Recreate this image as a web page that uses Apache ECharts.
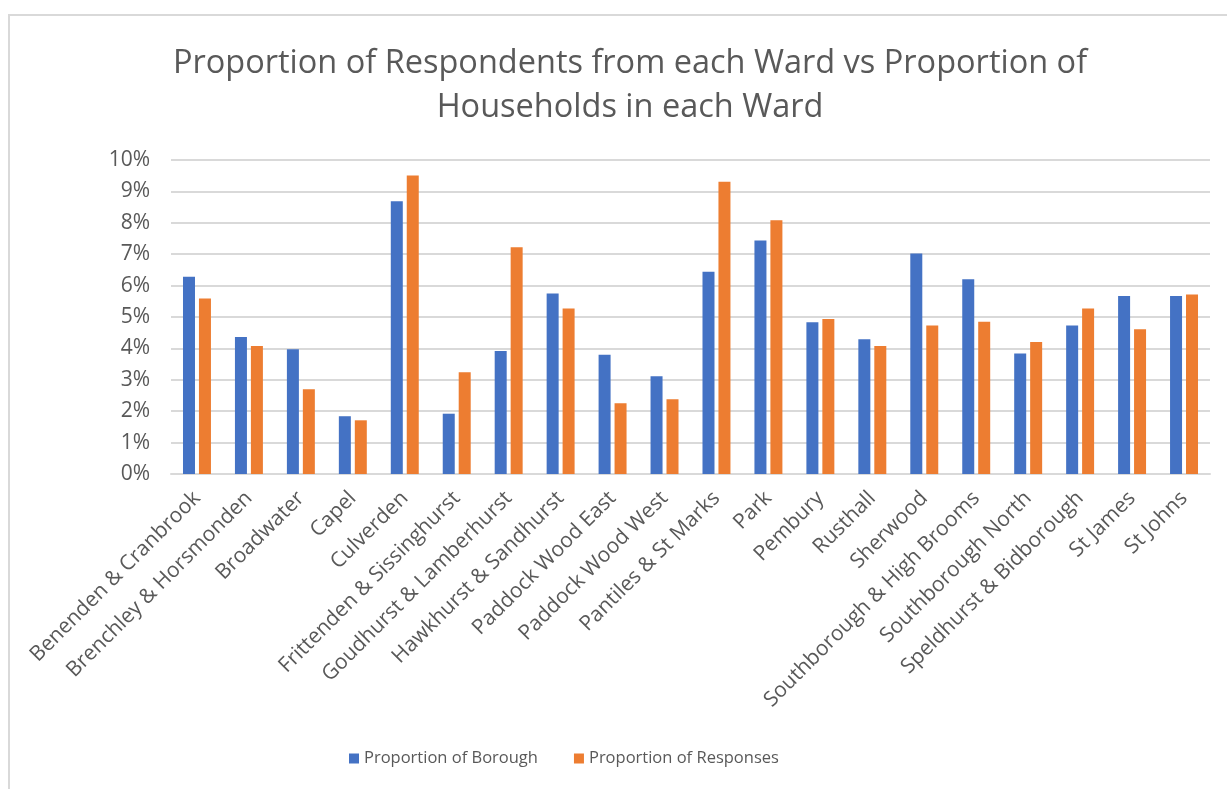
<!DOCTYPE html>
<html>
<head>
<meta charset="utf-8">
<script src="https://cdn.jsdelivr.net/npm/echarts@6/dist/echarts.min.js"></script>
<style>
html,body{margin:0;padding:0;background:#fff;}
#chart{width:1227px;height:789px;}
</style>
</head>
<body>
<div id="chart"></div>
<script>
const wards = [
  "Benenden & Cranbrook","Brenchley & Horsmonden","Broadwater","Capel","Culverden",
  "Frittenden & Sissinghurst","Goudhurst & Lamberhurst","Hawkhurst & Sandhurst",
  "Paddock Wood East","Paddock Wood West","Pantiles & St Marks","Park","Pembury",
  "Rusthall","Sherwood","Southborough & High Brooms","Southborough North",
  "Speldhurst & Bidborough","St James","St Johns"
];
const proportionOfBorough = [6.28,4.36,3.97,1.84,8.69,1.92,3.92,5.75,3.80,3.11,6.44,7.44,4.83,4.29,7.02,6.20,3.84,4.73,5.67,5.67];
const proportionOfResponses = [5.59,4.08,2.70,1.71,9.51,3.24,7.22,5.27,2.25,2.38,9.31,8.08,4.94,4.08,4.73,4.85,4.20,5.27,4.61,5.72];
const yTicks = [0,1,2,3,4,5,6,7,8,9,10];

const FONT = "Open Sans";
const chart = echarts.init(document.getElementById('chart'), null, {renderer:'canvas'});
chart.setOption({
  backgroundColor: '#ffffff',
  animation: false,
  graphic: [{
    type: 'rect',
    shape: {x: 9, y: 15, width: 1240, height: 800},
    style: {fill: 'none', stroke: '#D9D9D9', lineWidth: 2},
    silent: true
  }],
  title: {
    text: 'Proportion of Respondents from each Ward vs Proportion of\nHouseholds in each Ward',
    left: 625, top: 37, textAlign: 'center',
    textStyle: {fontFamily: FONT, fontSize: 32.5, fontWeight: 'normal', color: '#595959', lineHeight: 44}
  },
  legend: {
    left: 349, top: 750, padding: 0,
    itemWidth: 10, itemHeight: 10, itemGap: 36,
    icon: 'rect',
    textStyle: {fontFamily: FONT, fontSize: 16.5, color: '#595959'},
    data: ['Proportion of Borough','Proportion of Responses']
  },
  grid: {left: 171, right: 17, top: 160, bottom: 315, containLabel: false},
  xAxis: {
    type: 'category',
    data: wards,
    axisTick: {show: false},
    axisLine: {lineStyle: {color: '#D9D9D9', width: 2}},
    axisLabel: {interval: 0, rotate: 45, margin: 21, fontFamily: FONT, fontSize: 21, color: '#595959'}
  },
  yAxis: {
    type: 'value', min: yTicks[0], max: yTicks[yTicks.length-1], interval: 1,
    axisLine: {show: false}, axisTick: {show: false},
    splitLine: {lineStyle: {color: '#D9D9D9', width: 2}},
    axisLabel: {formatter: '{value}%', margin: 21, fontFamily: FONT, fontSize: 21, color: '#595959'}
  },
  series: [
    {name: 'Proportion of Borough', type: 'bar', data: proportionOfBorough, barWidth: 12, barGap: '33%',
     itemStyle: {color: '#4472C4'}},
    {name: 'Proportion of Responses', type: 'bar', data: proportionOfResponses, barWidth: 12, barGap: '33%',
     itemStyle: {color: '#ED7D31'}}
  ]
});
</script>
</body>
</html>
